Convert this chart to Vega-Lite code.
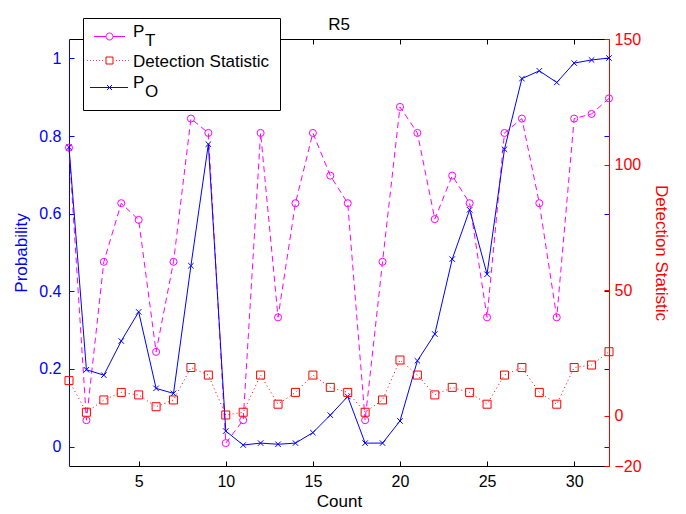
{
  "$schema": "https://vega.github.io/schema/vega-lite/v6.json",
  "width": 540,
  "height": 427,
  "autosize": {"type": "none"},
  "padding": {"left": 69, "top": 39, "right": 77, "bottom": 48},
  "background": "white",
  "config": {
    "font": "Liberation Sans",
    "view": {"stroke": null},
    "axis": {"grid": false, "labelFont": "Liberation Sans", "titleFont": "Liberation Sans", "labelFontSize": 16, "titleFontSize": 17, "titleFontWeight": "normal"}
  },
  "title": {"text": "R5", "fontSize": 17, "fontWeight": "normal", "color": "black", "offset": -16, "font": "Liberation Sans"},
  "data": {"values": [
    {"count": 1, "series": "P_T", "value": 0.77},
    {"count": 2, "series": "P_T", "value": 0.068},
    {"count": 3, "series": "P_T", "value": 0.476},
    {"count": 4, "series": "P_T", "value": 0.627},
    {"count": 5, "series": "P_T", "value": 0.584},
    {"count": 6, "series": "P_T", "value": 0.244},
    {"count": 7, "series": "P_T", "value": 0.476},
    {"count": 8, "series": "P_T", "value": 0.845},
    {"count": 9, "series": "P_T", "value": 0.808},
    {"count": 10, "series": "P_T", "value": 0.009},
    {"count": 11, "series": "P_T", "value": 0.068},
    {"count": 12, "series": "P_T", "value": 0.808},
    {"count": 13, "series": "P_T", "value": 0.333},
    {"count": 14, "series": "P_T", "value": 0.627},
    {"count": 15, "series": "P_T", "value": 0.808},
    {"count": 16, "series": "P_T", "value": 0.698},
    {"count": 17, "series": "P_T", "value": 0.627},
    {"count": 18, "series": "P_T", "value": 0.068},
    {"count": 19, "series": "P_T", "value": 0.476},
    {"count": 20, "series": "P_T", "value": 0.875},
    {"count": 21, "series": "P_T", "value": 0.808},
    {"count": 22, "series": "P_T", "value": 0.586},
    {"count": 23, "series": "P_T", "value": 0.698},
    {"count": 24, "series": "P_T", "value": 0.627},
    {"count": 25, "series": "P_T", "value": 0.333},
    {"count": 26, "series": "P_T", "value": 0.808},
    {"count": 27, "series": "P_T", "value": 0.845},
    {"count": 28, "series": "P_T", "value": 0.627},
    {"count": 29, "series": "P_T", "value": 0.333},
    {"count": 30, "series": "P_T", "value": 0.845},
    {"count": 31, "series": "P_T", "value": 0.857},
    {"count": 32, "series": "P_T", "value": 0.897},
    {"count": 1, "series": "P_O", "value": 0.771},
    {"count": 2, "series": "P_O", "value": 0.198},
    {"count": 3, "series": "P_O", "value": 0.184},
    {"count": 4, "series": "P_O", "value": 0.272},
    {"count": 5, "series": "P_O", "value": 0.347},
    {"count": 6, "series": "P_O", "value": 0.150},
    {"count": 7, "series": "P_O", "value": 0.137},
    {"count": 8, "series": "P_O", "value": 0.466},
    {"count": 9, "series": "P_O", "value": 0.779},
    {"count": 10, "series": "P_O", "value": 0.040},
    {"count": 11, "series": "P_O", "value": 0.004},
    {"count": 12, "series": "P_O", "value": 0.009},
    {"count": 13, "series": "P_O", "value": 0.006},
    {"count": 14, "series": "P_O", "value": 0.009},
    {"count": 15, "series": "P_O", "value": 0.036},
    {"count": 16, "series": "P_O", "value": 0.081},
    {"count": 17, "series": "P_O", "value": 0.129},
    {"count": 18, "series": "P_O", "value": 0.009},
    {"count": 19, "series": "P_O", "value": 0.009},
    {"count": 20, "series": "P_O", "value": 0.066},
    {"count": 21, "series": "P_O", "value": 0.221},
    {"count": 22, "series": "P_O", "value": 0.290},
    {"count": 23, "series": "P_O", "value": 0.483},
    {"count": 24, "series": "P_O", "value": 0.610},
    {"count": 25, "series": "P_O", "value": 0.444},
    {"count": 26, "series": "P_O", "value": 0.766},
    {"count": 27, "series": "P_O", "value": 0.948},
    {"count": 28, "series": "P_O", "value": 0.968},
    {"count": 29, "series": "P_O", "value": 0.938},
    {"count": 30, "series": "P_O", "value": 0.988},
    {"count": 31, "series": "P_O", "value": 0.996},
    {"count": 32, "series": "P_O", "value": 1.001},
    {"count": 1, "series": "Detection Statistic", "value": 14},
    {"count": 2, "series": "Detection Statistic", "value": 1.4},
    {"count": 3, "series": "Detection Statistic", "value": 6.3},
    {"count": 4, "series": "Detection Statistic", "value": 9.3},
    {"count": 5, "series": "Detection Statistic", "value": 8.3},
    {"count": 6, "series": "Detection Statistic", "value": 3.6},
    {"count": 7, "series": "Detection Statistic", "value": 6.3},
    {"count": 8, "series": "Detection Statistic", "value": 19.2},
    {"count": 9, "series": "Detection Statistic", "value": 16.2},
    {"count": 10, "series": "Detection Statistic", "value": 0.3},
    {"count": 11, "series": "Detection Statistic", "value": 1.4},
    {"count": 12, "series": "Detection Statistic", "value": 16.2},
    {"count": 13, "series": "Detection Statistic", "value": 4.6},
    {"count": 14, "series": "Detection Statistic", "value": 9.3},
    {"count": 15, "series": "Detection Statistic", "value": 16.2},
    {"count": 16, "series": "Detection Statistic", "value": 11.3},
    {"count": 17, "series": "Detection Statistic", "value": 9.3},
    {"count": 18, "series": "Detection Statistic", "value": 1.4},
    {"count": 19, "series": "Detection Statistic", "value": 6.3},
    {"count": 20, "series": "Detection Statistic", "value": 22.2},
    {"count": 21, "series": "Detection Statistic", "value": 16.2},
    {"count": 22, "series": "Detection Statistic", "value": 8.3},
    {"count": 23, "series": "Detection Statistic", "value": 11.3},
    {"count": 24, "series": "Detection Statistic", "value": 9.3},
    {"count": 25, "series": "Detection Statistic", "value": 4.6},
    {"count": 26, "series": "Detection Statistic", "value": 16.2},
    {"count": 27, "series": "Detection Statistic", "value": 19.2},
    {"count": 28, "series": "Detection Statistic", "value": 9.3},
    {"count": 29, "series": "Detection Statistic", "value": 4.6},
    {"count": 30, "series": "Detection Statistic", "value": 19.2},
    {"count": 31, "series": "Detection Statistic", "value": 20.2},
    {"count": 32, "series": "Detection Statistic", "value": 25.5}
  ]},
  "encoding": {
    "x": {"field": "count", "type": "quantitative", "scale": {"domain": [1, 32], "nice": false, "zero": false}, "axis": null},
    "color": {
      "field": "series", "type": "nominal",
      "scale": {"domain": ["P_T", "Detection Statistic", "P_O"], "range": ["#ff00ff", "#ff0000", "#0000ff"]},
      "legend": {
        "orient": "none", "legendX": 14, "legendY": -21, "zindex": 5,
        "title": null, "padding": 10, "fillColor": "white", "strokeColor": "black",
        "symbolSize": 100, "symbolOffset": 8, "labelOffset": 15, "rowPadding": 3,
        "labelFont": "Liberation Sans", "labelFontSize": 17, "labelColor": "black", "labelLimit": 300,
        "labelBaseline": "alphabetic",
        "labelExpr": "datum.value === 'P_T' ? ['P', '\u2800T'] : datum.value === 'P_O' ? ['P', '\u2800O'] : datum.value",
        "encode": {
          "symbols": {"update": {
            "shape": {"signal": "datum.value === 'P_T' ? 'M-3.1,0H-0.7M0.7,0H3.1M-0.7,0A0.7,0.7 0 1,0 0.7,0A0.7,0.7 0 1,0 -0.7,0' : datum.value === 'P_O' ? 'M-3.9,0H3.7M-0.5,-0.5L0.5,0.5M-0.5,0.5L0.5,-0.5' : 'M-4.5,0h0.15M-3.9,0h0.15M-3.3,0h0.15M-2.7,0h0.15M-2.1,0h0.15M-1.5,0h0.15M1.35,0h0.15M1.95,0h0.15M2.55,0h0.15M3.15,0h0.15M3.75,0h0.15M-0.7,-0.7h1.4v1.4h-1.4z'"},
            "stroke": {"signal": "datum.value === 'P_T' ? '#ff00ff' : datum.value === 'P_O' ? '#0000ff' : '#ff0000'"},
            "fill": {"value": "transparent"},
            "strokeDash": {"value": []},
            "strokeWidth": {"value": 1},
            "opacity": {"value": 1}
          }},
          "labels": {"update": {
            "dy": {"signal": "datum.value === 'Detection Statistic' ? 6 : 0"},
            "lineHeight": {"value": 9}
          }}
        }
      }
    }
  },
  "layer": [
    {
      "transform": [{"filter": "datum.series === 'P_T'"}],
      "mark": {"type": "line", "strokeWidth": 1, "strokeDash": [6, 4]},
      "encoding": {
        "x": {"field": "count", "type": "quantitative", "scale": {"domain": [1, 32], "nice": false, "zero": false}, "axis": {"orient": "bottom", "values": [5, 10, 15, 20, 25, 30], "tickSize": -5, "labelPadding": 12, "domainColor": "black", "tickColor": "black", "labelColor": "black", "title": "Count", "titleColor": "black", "titlePadding": 4}},
        "y": {"field": "value", "type": "quantitative", "scale": {"domain": [-0.05, 1.05], "nice": false, "zero": false}, "axis": {"orient": "left", "values": [0, 0.2, 0.4, 0.6, 0.8, 1], "format": "~g", "tickSize": -5, "labelPadding": 13, "domainColor": "#0000ff", "tickColor": "#0000ff", "labelColor": "#0000ff", "title": "Probability", "titleColor": "#0000ff", "titlePadding": 8}}
      }
    },
    {
      "transform": [{"filter": "datum.series === 'P_T'"}],
      "mark": {"type": "point", "shape": "circle", "size": 50, "filled": false, "strokeWidth": 1, "opacity": 1},
      "encoding": {
        "x": {"field": "count", "type": "quantitative", "scale": {"domain": [1, 32], "nice": false, "zero": false}, "axis": {"orient": "top", "values": [5, 10, 15, 20, 25, 30], "tickSize": -5, "labels": false, "title": null, "domainColor": "black", "tickColor": "black"}},
        "y": {"field": "value", "type": "quantitative", "scale": {"domain": [-0.05, 1.05], "nice": false, "zero": false}, "axis": {"orient": "right", "values": [0, 0.2, 0.4, 0.6, 0.8, 1], "tickSize": -5, "labels": false, "title": null, "domain": false, "tickColor": "#0000ff"}}
      }
    },
    {
      "transform": [{"filter": "datum.series === 'P_O'"}],
      "mark": {"type": "line", "strokeWidth": 1},
      "encoding": {
        "y": {"field": "value", "type": "quantitative", "scale": {"domain": [-0.05, 1.05], "nice": false, "zero": false}, "axis": null}
      }
    },
    {
      "transform": [{"filter": "datum.series === 'P_O'"}],
      "mark": {"type": "point", "shape": "M-1,-1L1,1M-1,1L1,-1", "size": 30, "filled": false, "strokeWidth": 1, "opacity": 1},
      "encoding": {
        "y": {"field": "value", "type": "quantitative", "scale": {"domain": [-0.05, 1.05], "nice": false, "zero": false}, "axis": null}
      }
    },
    {
      "transform": [{"filter": "datum.series === 'Detection Statistic'"}],
      "mark": {"type": "line", "strokeWidth": 1, "strokeDash": [1, 3]},
      "encoding": {
        "y": {"field": "value", "type": "quantitative", "scale": {"domain": [-20, 150], "nice": false, "zero": false}, "axis": {"orient": "right", "values": [-20, 0, 50, 100, 150], "tickSize": -5, "labelPadding": 10, "domainColor": "#ff0000", "tickColor": "#ff0000", "labelColor": "#ff0000", "title": "Detection Statistic", "titleColor": "#ff0000", "titlePadding": 10}}
      }
    },
    {
      "transform": [{"filter": "datum.series === 'Detection Statistic'"}],
      "mark": {"type": "point", "shape": "square", "size": 64, "filled": false, "strokeWidth": 1, "opacity": 1},
      "encoding": {
        "y": {"field": "value", "type": "quantitative", "scale": {"domain": [-20, 150], "nice": false, "zero": false}, "axis": null}
      }
    }
  ],
  "resolve": {"scale": {"y": "independent"}}
}
